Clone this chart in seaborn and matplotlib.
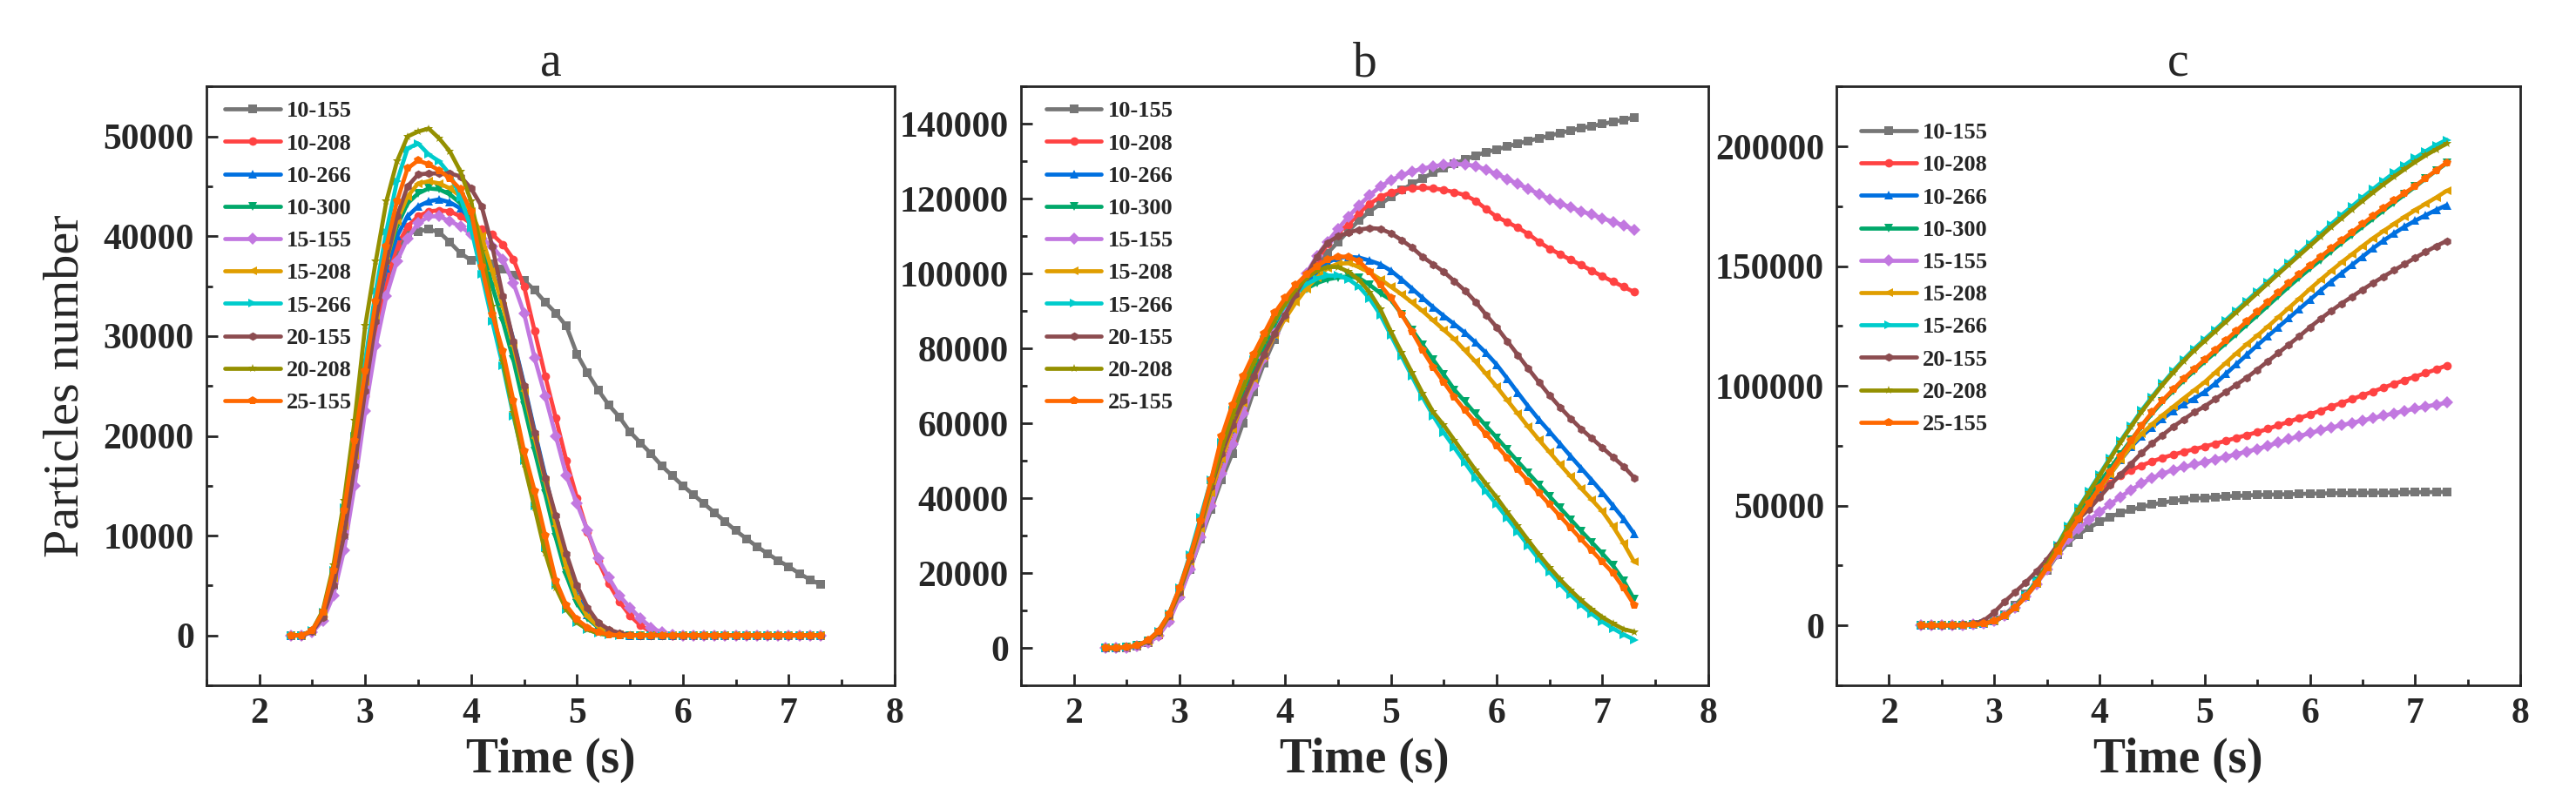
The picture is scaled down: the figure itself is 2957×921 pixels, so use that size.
import numpy as np
import pandas as pd
import matplotlib
matplotlib.use('Agg')
import matplotlib.pyplot as plt
import seaborn as sns
from matplotlib.ticker import AutoMinorLocator

# time axis (s)
time = [2.3, 2.4, 2.5, 2.6, 2.7, 2.8, 2.9, 3.0, 3.1, 3.2, 3.3, 3.4, 3.5, 3.6, 3.7, 3.8, 3.9,
        4.0, 4.1, 4.2, 4.3, 4.4, 4.5, 4.6, 4.7, 4.8, 4.9, 5.0, 5.1, 5.2, 5.3, 5.4, 5.5, 5.6,
        5.7, 5.8, 5.9, 6.0, 6.1, 6.2, 6.3, 6.4, 6.5, 6.6, 6.7, 6.8, 6.9, 7.0, 7.1, 7.2, 7.3]

cases = ['10-155', '10-208', '10-266', '10-300', '15-155', '15-208', '15-266', '20-155', '20-208', '25-155']
colors = ['#767676', '#FF4242', '#0070E0', '#00A86A', '#C278E0', '#E09E00', '#00CCCC', '#8C4C50', '#949000', '#FF6800']
markers = ['s', 'o', '^', 'v', 'D', '<', '>', 'h', '*', 'p']

# ---- panel a ----
a_10_155 = [0, 0, 400, 2000, 5000, 10000, 17000, 25000, 31000, 35500, 38300, 40300, 40500, 40700, 40400,
            39400, 38300, 37600, 37800, 37200, 36700, 36100, 35600, 34600, 33400, 32300, 31000, 28200,
            26300, 24600, 23100, 21900, 20400, 19300, 18200, 17000, 16000, 15000, 14100, 13200, 12300,
            11400, 10500, 9700, 8900, 8200, 7500, 6900, 6200, 5600, 5100]
a_10_208 = [0, 0, 400, 1900, 5200, 10200, 17000, 24000, 30500, 35500, 39000, 41000, 42000, 42500, 42600,
            42500, 42000, 41300, 40700, 40200, 39200, 37700, 35000, 30500, 26000, 21800, 17500, 13800,
            10400, 7500, 5200, 3400, 2000, 1000, 350, 100] + [0] * 15
a_10_266 = [0, 0, 400, 2000, 5800, 11200, 18000, 25500, 32000, 36800, 40000, 42000, 43000, 43500, 43700,
            43400, 42800, 41700, 39700, 36500, 33500, 29600, 25200, 20500, 16000, 11500, 7200, 4000,
            2100, 1000, 400, 100] + [0] * 19
a_10_300 = [0, 0, 400, 2100, 6000, 11500, 18500, 26000, 32500, 37500, 41000, 43300, 44300, 44800, 44700,
            44200, 43300, 41800, 39000, 35000, 31500, 27600, 23000, 18500, 14200, 9800, 6000, 3200,
            1700, 800, 300, 80] + [0] * 19
a_15_155 = [0, 0, 300, 1500, 4000, 8500, 15000, 22500, 29000, 34000, 37500, 39800, 41300, 42000, 42000,
            41500, 41000, 40200, 39800, 39000, 37700, 35300, 32300, 27800, 24000, 20000, 16000, 13200,
            10500, 7700, 5800, 4000, 2800, 1700, 800, 300, 100] + [0] * 14
a_15_208 = [0, 0, 400, 2000, 5700, 11000, 18000, 25500, 32000, 37500, 41500, 44000, 45300, 45500, 45300,
            44800, 44000, 42500, 40000, 36500, 33000, 29000, 24500, 19800, 15500, 11000, 6800, 3700,
            1900, 900, 350, 100] + [0] * 19
a_15_266 = [0, 0, 500, 2300, 6500, 12800, 20000, 27500, 34500, 40500, 45500, 48800, 49300, 48200, 47500,
            46200, 43900, 40800, 36200, 31500, 27000, 22000, 17500, 13000, 8800, 5000, 2600, 1300,
            600, 200, 50] + [0] * 20
a_20_155 = [0, 0, 400, 1800, 5000, 10000, 17000, 24500, 31500, 37500, 42000, 45000, 46200, 46300, 46300,
            46300, 46000, 44800, 43000, 39000, 34000, 29500, 25000, 20300, 15800, 12000, 8200, 5000,
            2800, 1300, 600, 250, 50] + [0] * 18
a_20_208 = [0, 0, 500, 2500, 7000, 13500, 21500, 31000, 37500, 43500, 47500, 50000, 50500, 50800, 49800,
            48500, 46500, 43500, 38500, 33000, 27500, 22300, 17200, 12800, 8300, 4800, 2600, 1300,
            600, 200, 50] + [0] * 20
a_25_155 = [0, 0, 500, 2300, 6500, 12500, 19500, 26500, 33500, 39000, 43500, 46800, 47600, 47200, 46600,
            45800, 44700, 42500, 37000, 32200, 28500, 23500, 18500, 14500, 10000, 5500, 3000, 1600,
            800, 350, 100] + [0] * 20

# ---- panel b ----
b_10_155 = [0, 0, 100, 500, 1500, 3500, 7500, 14000, 21000, 29000, 37000, 45000, 52000, 60000, 68500,
            76000, 82500, 88500, 93500, 98000, 102000, 105500, 108500, 111500, 114300, 116700, 118600,
            120500, 122300, 124000, 125500, 127000, 128200, 129400, 130500, 131600, 132500, 133200,
            134000, 134800, 135500, 136200, 136900, 137600, 138300, 138900, 139500, 140000, 140600,
            141100, 141800]
b_10_208 = [0, 0, 100, 400, 1300, 3300, 7200, 13800, 21500, 30000, 38500, 47000, 55000, 63000, 70500,
            77500, 83500, 88500, 93500, 98500, 103500, 108000, 111000, 113200, 116300, 118700, 120500,
            121700, 122500, 122900, 123000, 122800, 122400, 121800, 121000, 119500, 117300, 115200,
            113800, 112300, 110600, 108500, 106700, 105200, 103700, 102300, 100800, 99300, 97900,
            96500, 95100]
b_10_266 = [0, 0, 200, 600, 1700, 4000, 8300, 14800, 23000, 32000, 41500, 50500, 58500, 65500, 72000,
            78000, 83500, 88500, 93000, 97000, 100500, 103000, 104300, 104500, 104300, 103500, 102500,
            100800, 98500, 96000, 93500, 91000, 88700, 86500, 84200, 81600, 78800, 75700, 72000, 68200,
            64500, 61000, 57800, 54500, 51200, 48000, 44800, 41500, 38000, 34500, 30500]
b_10_300 = [0, 0, 200, 600, 1800, 4300, 8700, 15500, 24000, 33500, 43500, 53000, 61000, 68000, 74500,
            80500, 86000, 90500, 93800, 96000, 97500, 98500, 99000, 99300, 98800, 97000, 94800, 93000,
            89200, 85000, 81000, 77000, 73000, 69000, 65800, 62500, 59300, 56200, 53000, 49800, 46700,
            43600, 40500, 37400, 34300, 31200, 28200, 25200, 22000, 18000, 13000]
b_15_155 = [0, 0, 100, 400, 1300, 3200, 7000, 13500, 21000, 29500, 38000, 46500, 54500, 62500, 70000,
            77500, 84000, 89500, 95000, 100000, 104800, 108500, 112000, 115300, 118300, 121000, 123300,
            125000, 126300, 127300, 128100, 128700, 129100, 129300, 129200, 128800, 127800, 126600,
            125300, 124000, 122700, 121300, 119900, 118800, 117700, 116700, 115800, 114800, 113900,
            112900, 111800]
b_15_208 = [0, 0, 200, 600, 1700, 4000, 8300, 14800, 23000, 32000, 41500, 50500, 58500, 65500, 72000,
            78000, 83500, 88000, 92300, 96000, 99000, 101500, 102700, 102800, 101800, 100300, 98500,
            96500, 94500, 92300, 90000, 87500, 85000, 82500, 79500, 76500, 73200, 69800, 66200, 62600,
            59000, 55600, 52300, 49000, 45800, 42600, 39600, 36500, 32500, 28000, 23000]
b_15_266 = [0, 0, 200, 600, 1900, 4500, 9000, 16000, 25000, 35000, 45000, 55000, 63500, 70500, 77000,
            82500, 87500, 91500, 94800, 97200, 98700, 99500, 99500, 98500, 96500, 93300, 89000, 83500,
            78000, 72500, 67000, 62000, 57500, 53500, 49500, 45500, 41800, 38300, 34700, 31000, 27300,
            23700, 20300, 17100, 14200, 11500, 9100, 7000, 5200, 3600, 2200]
b_20_155 = [0, 0, 200, 600, 1800, 4200, 8500, 15000, 23500, 33000, 43000, 52000, 59500, 66000, 72500,
            78500, 84000, 89000, 94500, 99500, 104500, 108300, 110000, 111000, 111800, 112200, 112000,
            110800, 109000, 107000, 104500, 102500, 100500, 98000, 95500, 92500, 89000, 85700, 82000,
            78300, 74600, 71000, 67500, 64300, 61300, 58500, 56000, 53500, 51000, 48500, 45500]
b_20_208 = [0, 0, 200, 600, 1800, 4300, 8800, 15500, 24000, 33500, 43500, 53500, 62000, 69500, 76000,
            82000, 87500, 92000, 95800, 98800, 100800, 101800, 101800, 100500, 98300, 95000, 90500,
            84500, 79000, 73500, 68000, 63000, 59500, 55500, 51500, 47500, 43800, 40200, 36300, 32500,
            28700, 25000, 21500, 18300, 15400, 12700, 10300, 8200, 6500, 5000, 4300]
b_25_155 = [0, 0, 200, 600, 2000, 4500, 9000, 16000, 24500, 34000, 45000, 56500, 65000, 72500, 78500,
            84000, 89500, 93500, 97000, 99800, 102000, 103800, 104600, 104500, 103300, 100500, 97000,
            93500, 89200, 84500, 79500, 75000, 71000, 67000, 63500, 60300, 57100, 54000, 50800, 47600,
            44500, 41400, 38300, 35200, 32100, 29000, 26000, 23000, 20000, 16000, 11500]

# ---- panel c ----
c_10_155 = [0, 0, 0, 0, 100, 300, 800, 2200, 4500, 8500, 13000, 18000, 23000, 29500, 34500, 38000,
            40800, 43200, 45300, 47000, 48300, 49500, 50500, 51300, 52000, 52500, 53000, 53300, 53600,
            53900, 54100, 54300, 54500, 54600, 54700, 54800, 54900, 55000, 55100, 55200, 55250, 55300,
            55350, 55400, 55450, 55500, 55550, 55600, 55650, 55700, 55750]
c_10_208 = [0, 0, 0, 0, 100, 300, 700, 1800, 4000, 7500, 12000, 17500, 24000, 31000, 38000, 44500,
            50500, 55500, 59500, 62500, 64800, 66800, 68500, 70000, 71300, 72500, 73600, 74700, 75900,
            77100, 78300, 79500, 80700, 82100, 83600, 85100, 86600, 88100, 89700, 91300, 92900, 94500,
            96100, 97700, 99300, 100900, 102400, 103900, 105400, 106900, 108600]
c_10_266 = [0, 0, 0, 0, 100, 300, 700, 1800, 4000, 7500, 12000, 17500, 24000, 31000, 38000, 44500,
            51000, 57000, 63000, 69000, 74500, 79000, 82800, 86300, 89500, 92300, 94800, 97500, 101000,
            105000, 109000, 113000, 117000, 120800, 124600, 128400, 132200, 136000, 139800, 143500,
            147000, 150500, 154000, 157500, 160700, 163700, 166500, 169000, 171300, 173500, 175500]
c_10_300 = [0, 0, 0, 0, 100, 300, 700, 1800, 4000, 7500, 12500, 18500, 25000, 32500, 40000, 47000,
            53500, 59500, 65500, 71500, 77500, 83000, 88500, 93500, 98000, 102300, 106300, 110200,
            114000, 117800, 121700, 125600, 129500, 133500, 137500, 141500, 145300, 149000, 152600,
            156200, 159700, 163100, 166500, 169900, 173300, 176600, 179900, 183200, 186600, 189900, 193000]
c_15_155 = [0, 0, 0, 0, 100, 300, 700, 1800, 4000, 7500, 12000, 17000, 23500, 30000, 36000, 40500,
            44000, 47300, 50600, 53700, 56600, 59300, 61600, 63400, 64900, 66100, 67200, 68200, 69300,
            70400, 71500, 72600, 73700, 75000, 76400, 77800, 79100, 80300, 81500, 82600, 83600, 84600,
            85600, 86600, 87600, 88600, 89600, 90500, 91400, 92200, 93000]
c_15_208 = [0, 0, 0, 0, 100, 300, 700, 1800, 4000, 7500, 12000, 17500, 24000, 31000, 38000, 44500,
            51000, 57000, 63000, 69000, 75000, 80000, 84000, 87800, 91300, 94800, 98200, 101600, 105600,
            109600, 113600, 117400, 121000, 124800, 128700, 132600, 136500, 140500, 144300, 148000,
            151600, 155000, 158400, 161700, 164700, 167700, 170600, 173400, 176100, 178700, 181500]
c_15_266 = [0, 0, 0, 0, 100, 300, 700, 1800, 4000, 7500, 12500, 18500, 25500, 33500, 41500, 49000,
            56000, 63000, 70000, 77000, 83500, 89800, 95500, 101000, 106200, 111000, 115500, 119500,
            123500, 127500, 131500, 135500, 139500, 143500, 147500, 151500, 155500, 159500, 163500,
            167500, 171300, 175000, 178700, 182200, 185700, 189000, 192200, 195200, 198000, 200600, 202800]
c_20_155 = [0, 0, 0, 100, 300, 800, 2000, 5500, 10000, 14000, 18000, 22500, 27500, 33500, 39500, 44500,
            48500, 53500, 58500, 63000, 67500, 72000, 76000, 79500, 83000, 86000, 89000, 91500, 94500,
            97500, 100500, 103500, 106800, 110300, 113800, 117300, 120800, 124500, 128000, 131300,
            134400, 137300, 140200, 143000, 145700, 148300, 150900, 153500, 156000, 158400, 160600]
c_20_208 = [0, 0, 0, 0, 100, 300, 700, 1800, 4000, 7500, 12300, 18000, 25000, 33000, 41000, 48500,
            55500, 62500, 69500, 76500, 83000, 89200, 95000, 100500, 105600, 110400, 114800, 118800,
            122800, 126800, 130800, 134800, 138800, 142800, 146800, 150700, 154600, 158500, 162400,
            166300, 170000, 173700, 177300, 180800, 184200, 187400, 190500, 193500, 196300, 198800, 201200]
c_25_155 = [0, 0, 0, 0, 100, 300, 700, 1800, 4000, 7500, 12000, 17500, 24000, 31000, 38000, 44500,
            51000, 57500, 64000, 70500, 77000, 83500, 89000, 94000, 98500, 103000, 107000, 111000,
            115000, 119000, 123000, 127000, 131000, 135000, 139000, 143000, 146700, 150300, 153900,
            157400, 160800, 164200, 167600, 171000, 174300, 177500, 180500, 183500, 186800, 190000, 193300]

panel_a = [a_10_155, a_10_208, a_10_266, a_10_300, a_15_155, a_15_208, a_15_266, a_20_155, a_20_208, a_25_155]
panel_b = [b_10_155, b_10_208, b_10_266, b_10_300, b_15_155, b_15_208, b_15_266, b_20_155, b_20_208, b_25_155]
panel_c = [c_10_155, c_10_208, c_10_266, c_10_300, c_15_155, c_15_208, c_15_266, c_20_155, c_20_208, c_25_155]

sns.set_style('ticks')
plt.rcParams['font.family'] = ['Liberation Serif', 'DejaVu Serif']

fig = plt.figure(figsize=(29.57, 9.21), dpi=100)


def draw(rect, series, title, yticks, ylim, leg_anchor, ylabel=None):
    ax = fig.add_axes(rect)
    df = pd.DataFrame({'Time': time * len(cases),
                       'N': [v for s in series for v in s],
                       'Case': np.repeat(cases, len(time))})
    sns.lineplot(data=df, x='Time', y='N', hue='Case', style='Case', hue_order=cases,
                 style_order=cases, palette=colors, markers=markers, dashes=False,
                 linewidth=3.4, markersize=7, markeredgewidth=0, errorbar=None, ax=ax)
    old = ax.get_legend()
    handles = [h for h, t in zip(old.legend_handles, old.get_texts()) if t.get_text() in cases]
    labels = [t.get_text() for t in old.get_texts() if t.get_text() in cases]
    leg = ax.legend(handles, labels, loc='upper left', bbox_to_anchor=leg_anchor, frameon=False,
                    borderaxespad=0, borderpad=0, labelspacing=0.52, handlelength=2.4,
                    handletextpad=0.29, prop={'weight': 'bold', 'size': 19})
    for h in leg.legend_handles:
        h.set_linewidth(3.4)
        h.set_markersize(7)
        h.set_markeredgewidth(0)

    ax.set_xlim(1.5, 8)
    ax.set_xticks([2, 3, 4, 5, 6, 7, 8])
    ax.set_ylim(*ylim)
    ax.set_yticks(yticks)
    ax.xaxis.set_minor_locator(AutoMinorLocator(2))
    ax.yaxis.set_minor_locator(AutoMinorLocator(2))
    ax.tick_params(which='both', direction='in', width=2, top=False, right=False,
                   labelsize=30, pad=10)
    ax.tick_params(which='major', length=9.5)
    ax.tick_params(which='minor', length=5)
    for lab in ax.get_xticklabels() + ax.get_yticklabels():
        lab.set_fontweight('bold')
    for sp in ax.spines.values():
        sp.set_visible(True)
        sp.set_linewidth(2)
    ax.set_xlabel('Time (s)', fontsize=40, fontweight='bold', labelpad=6)
    if ylabel:
        ax.set_ylabel(ylabel, fontsize=42, labelpad=12)
    else:
        ax.set_ylabel('')
    ax.set_title(title, fontsize=40, pad=8)
    return ax


draw([0.0801, 0.1455, 0.2672, 0.7465], panel_a, 'a', [0, 10000, 20000, 30000, 40000, 50000],
     (-5000, 55000), (0.027, 0.976), ylabel='Particles number')
draw([0.3963, 0.1455, 0.2668, 0.7465], panel_b, 'b',
     [0, 20000, 40000, 60000, 80000, 100000, 120000, 140000], (-10000, 150000), (0.037, 0.976))
draw([0.7129, 0.1455, 0.2655, 0.7465], panel_c, 'c', [0, 50000, 100000, 150000, 200000],
     (-25000, 225000), (0.036, 0.940))

fig.savefig('out.png', dpi=100)
